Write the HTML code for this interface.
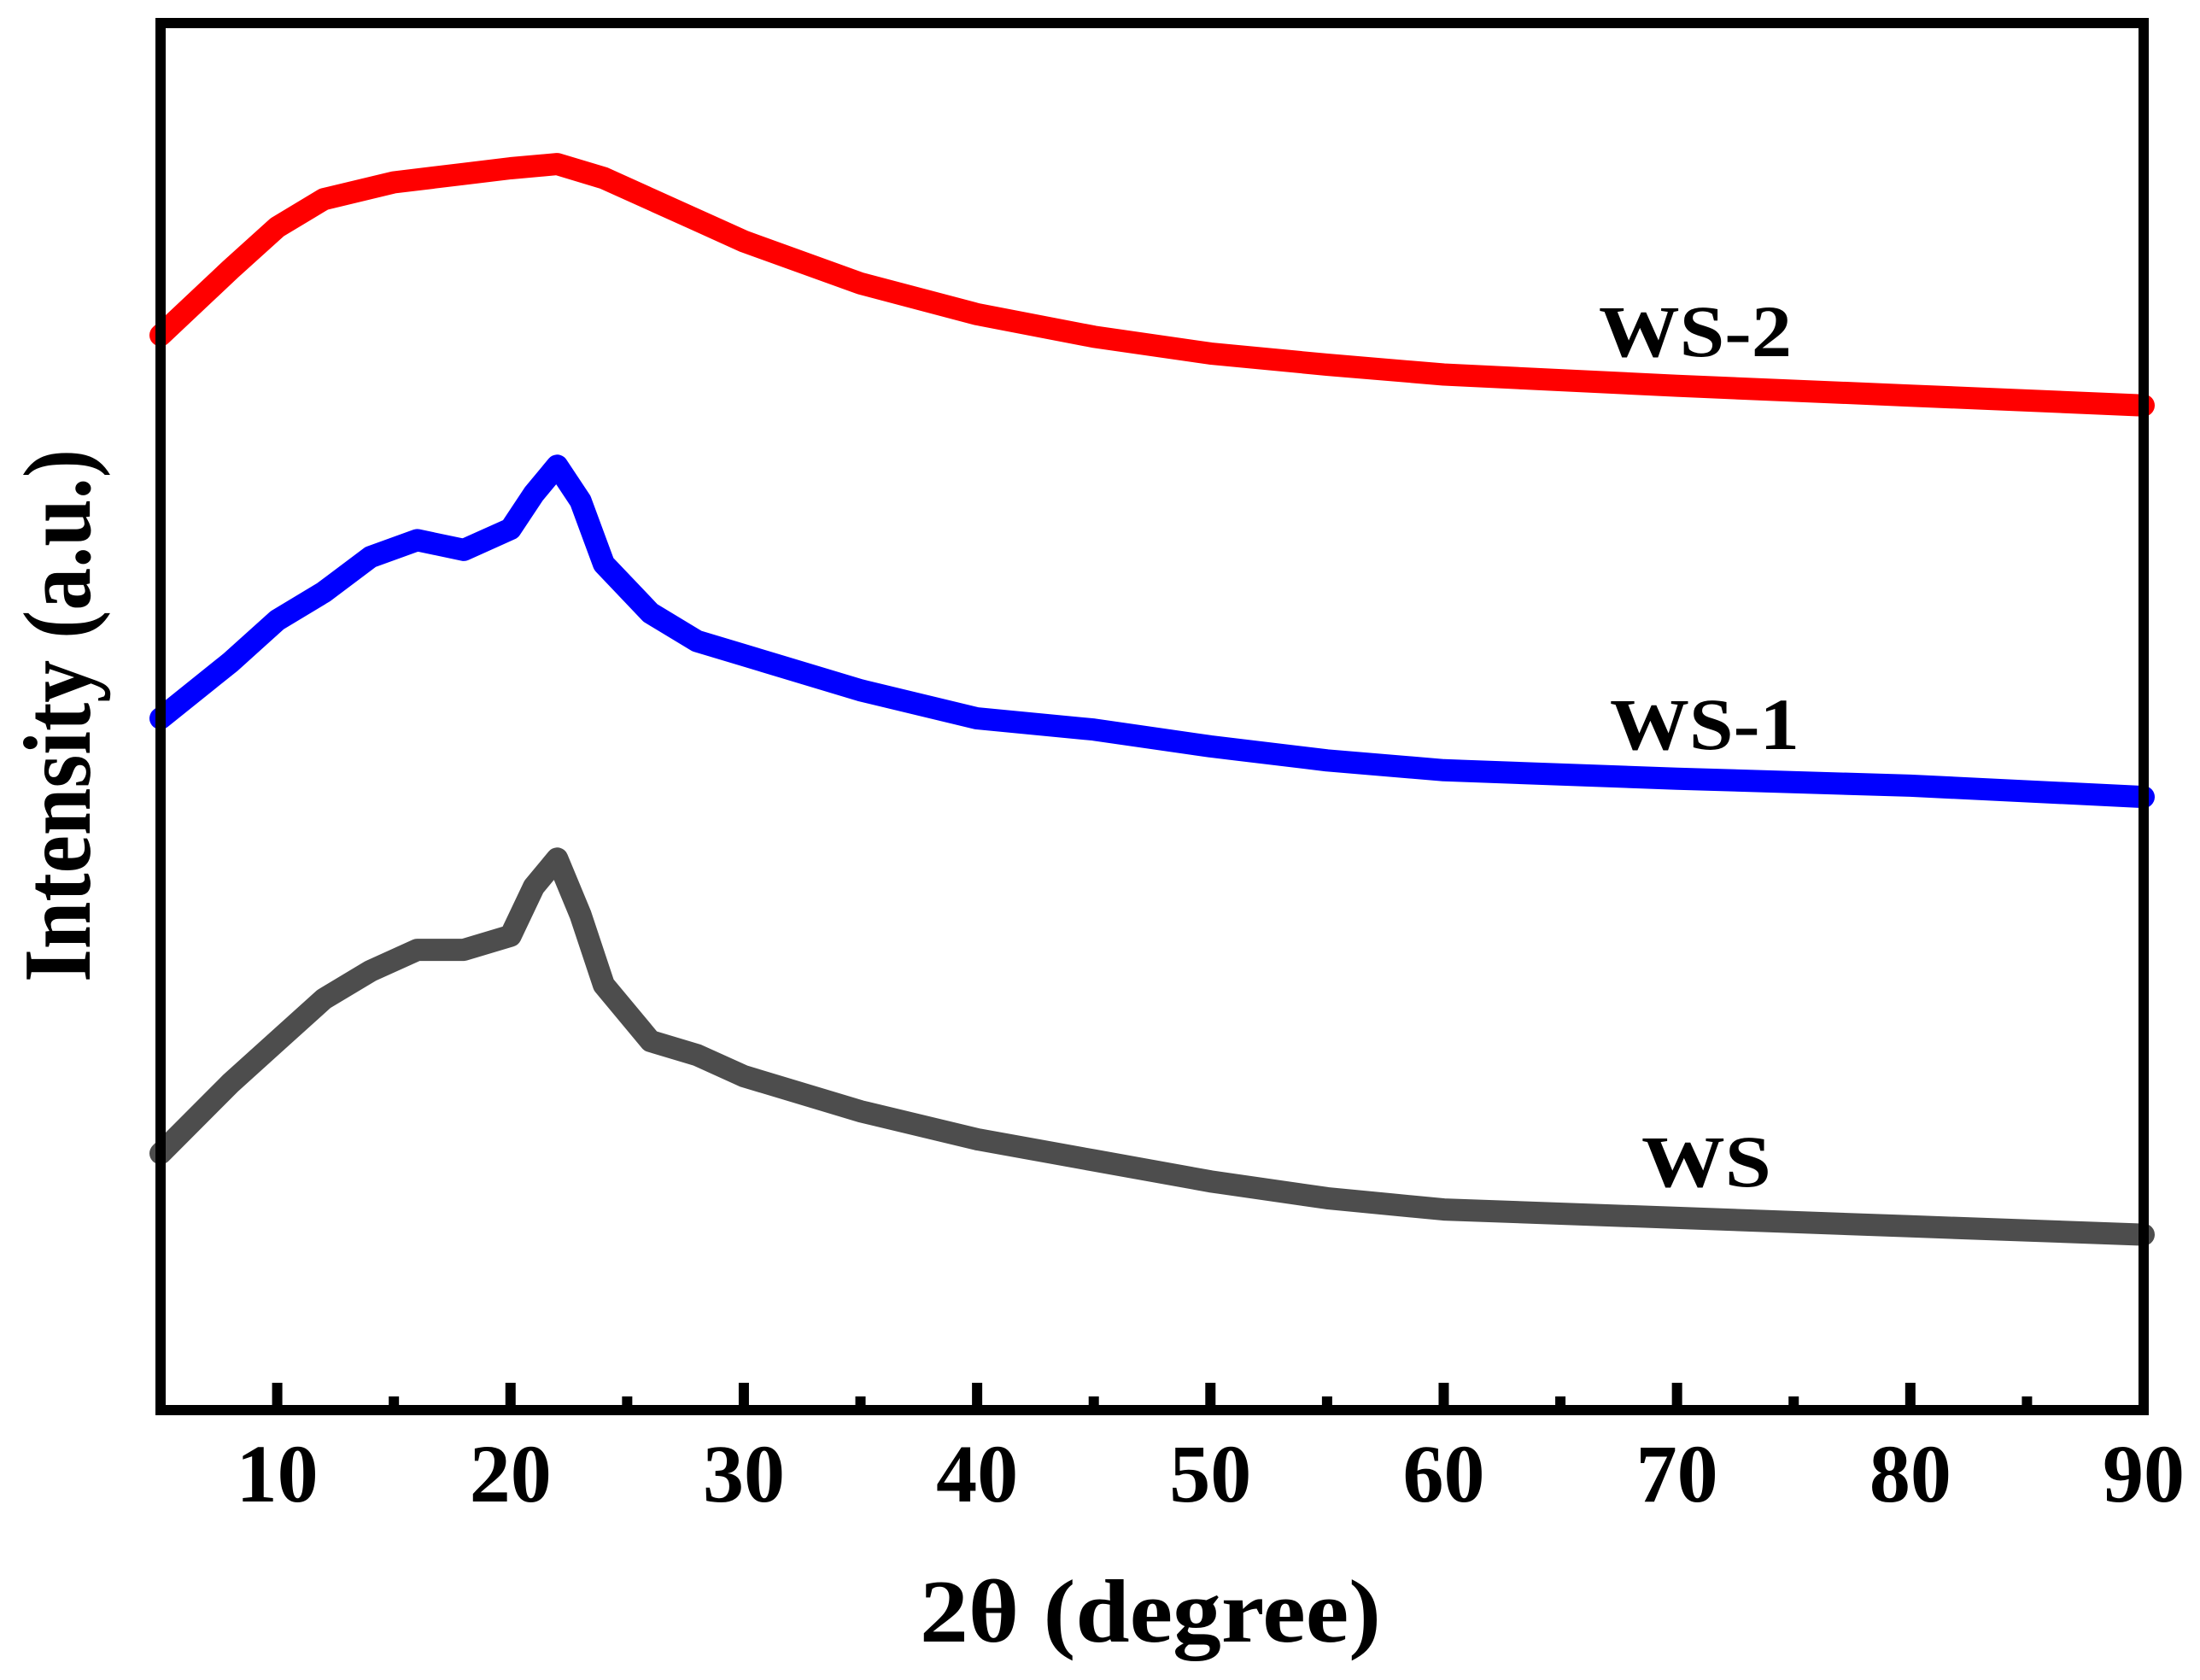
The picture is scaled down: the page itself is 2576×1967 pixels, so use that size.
<!DOCTYPE html>
<html><head><meta charset="utf-8"><style>
html,body{margin:0;padding:0;background:#fff;}
svg{display:block;}
text{font-family:"Liberation Serif",serif;font-weight:bold;fill:#000;}
</style></head><body>
<svg id="chart" width="2576" height="1967" viewBox="0 0 2576 1967" xmlns="http://www.w3.org/2000/svg">
<g id="series"></g>
<g id="axes"></g>
<text transform="translate(105,838) rotate(-90)" text-anchor="middle" font-size="112" textLength="624" lengthAdjust="spacingAndGlyphs">Intensity (a.u.)</text>
<text x="1347" y="1922" text-anchor="middle" font-size="105" textLength="540" lengthAdjust="spacingAndGlyphs">2θ (degree)</text>
<text x="1872" y="417" font-size="86" textLength="226" lengthAdjust="spacingAndGlyphs">WS-2</text>
<text x="1885" y="877" font-size="86" textLength="222" lengthAdjust="spacingAndGlyphs">WS-1</text>
<text x="1922" y="1389" font-size="86" textLength="152" lengthAdjust="spacingAndGlyphs">WS</text>
</svg>
<script>
const xTicks = [10,20,30,40,50,60,70,80,90];
const xMinorTicks = [15,25,35,45,55,65,75,85];
const ws2X = [5,8,10,12,15,18,20,22,24,26,28,30,35,40,45,50,55,60,70,80,90];
const ws2Y = [766,813,843,863,875,881,885,888,878,863,848,833,803,781,765,753,745,738,730,723,716];
const ws1X = [5,8,10,12,14,16,18,20,21,22,23,24,26,28,30,35,40,45,50,55,60,70,80,90];
const ws1Y = [493,533,563,583,608,620,613,628,653,673,648,603,568,548,538,513,493,485,473,463,456,450,445,437];
const wsX = [5,8,10,12,14,16,18,20,21,22,23,24,26,28,30,35,40,45,50,55,60,70,80,90];
const wsY = [183,233,263,293,313,328,328,338,373,393,353,303,263,253,238,213,193,178,163,151,143,137,131,125];

const NS = "http://www.w3.org/2000/svg";
const L = 188, R = 2510, T = 27, B = 1651;
const xMin = 5, xMax = 90, yMax = 988.5;
function xs(v){ return L + (v - xMin) / (xMax - xMin) * (R - L); }
function ys(v){ return B - v / yMax * (B - T); }

const sg = document.getElementById('series');
function drawSeries(xArr, yArr, color, name){
  let d = '';
  for (let i = 0; i < xArr.length; i++) d += (i ? 'L' : 'M') + xs(xArr[i]).toFixed(1) + ',' + ys(yArr[i]).toFixed(1);
  const p = document.createElementNS(NS, 'path');
  p.setAttribute('d', d);
  p.setAttribute('fill', 'none');
  p.setAttribute('stroke', color);
  p.setAttribute('stroke-width', '26');
  p.setAttribute('stroke-linejoin', 'round');
  p.setAttribute('stroke-linecap', 'round');
  
  
  sg.appendChild(p);
}
drawSeries(wsX, wsY, '#4d4d4d', 'series-ws');
drawSeries(ws1X, ws1Y, '#0000ff', 'series-ws-1');
drawSeries(ws2X, ws2Y, '#ff0000', 'series-ws-2');

const ag = document.getElementById('axes');
const frame = document.createElementNS(NS, 'rect');
frame.setAttribute('x', L); frame.setAttribute('y', T);
frame.setAttribute('width', R - L); frame.setAttribute('height', B - T);
frame.setAttribute('fill', 'none'); frame.setAttribute('stroke', '#000'); frame.setAttribute('stroke-width', '12');


ag.appendChild(frame);
xTicks.forEach(v => {
  const t = document.createElementNS(NS, 'line');
  t.setAttribute('x1', xs(v)); t.setAttribute('x2', xs(v));
  t.setAttribute('y1', B); t.setAttribute('y2', B - 32);
  t.setAttribute('stroke', '#000'); t.setAttribute('stroke-width', '12');
  
  
  ag.appendChild(t);
  const lb = document.createElementNS(NS, 'text');
  lb.setAttribute('x', xs(v)); lb.setAttribute('y', 1758);
  lb.setAttribute('text-anchor', 'middle'); lb.setAttribute('font-size', '96');
  lb.textContent = String(v);
  
  
  ag.appendChild(lb);
});
xMinorTicks.forEach(v => {
  const t = document.createElementNS(NS, 'line');
  t.setAttribute('x1', xs(v)); t.setAttribute('x2', xs(v));
  t.setAttribute('y1', B); t.setAttribute('y2', B - 16);
  t.setAttribute('stroke', '#000'); t.setAttribute('stroke-width', '12');
  
  
  ag.appendChild(t);
});
</script>
</body></html>
